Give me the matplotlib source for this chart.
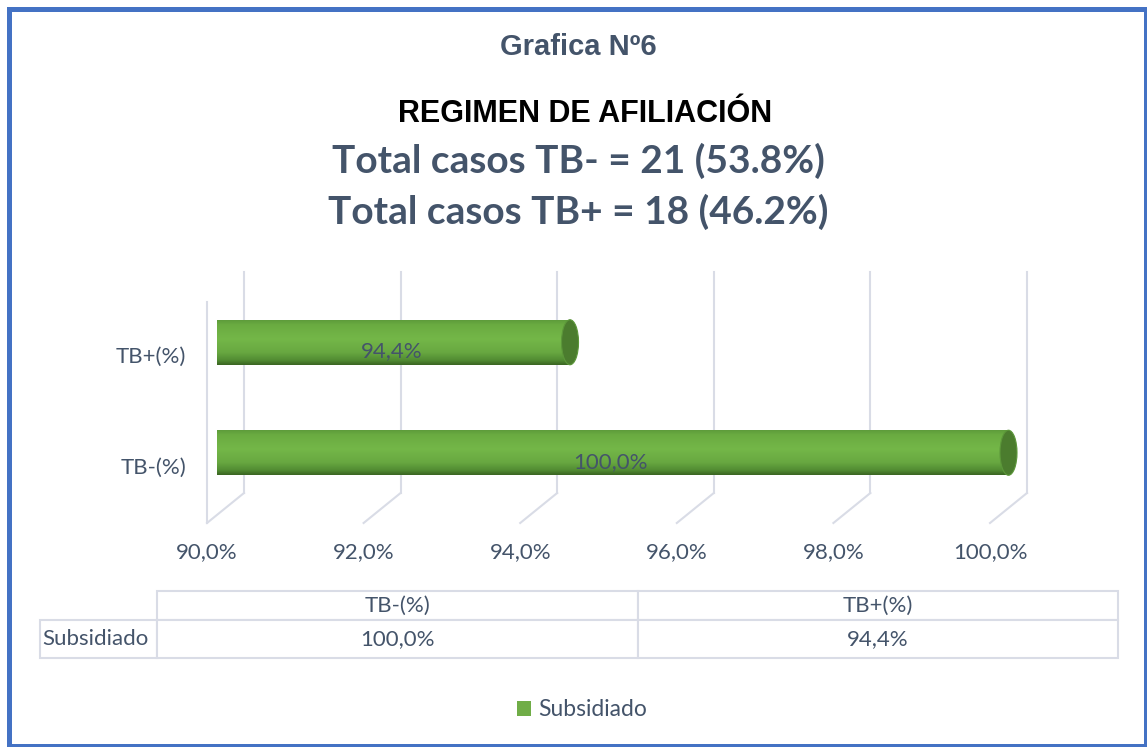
import numpy as np
import matplotlib
matplotlib.use("Agg")
import matplotlib.pyplot as plt
from matplotlib.patches import Ellipse, Rectangle, Patch
from matplotlib.path import Path
from matplotlib.colors import LinearSegmentedColormap
from matplotlib.transforms import Affine2D

# data
categories = ["TB-(%)", "TB+(%)"]
subsidiado = [100.0, 94.4]
series_name = "Subsidiado"
x_ticks = [90, 92, 94, 96, 98, 100]
titulo = "Grafica Nº6"
subtitulo = "REGIMEN DE AFILIACIÓN"
totales = ["Total casos TB- = 21 (53.8%)", "Total casos TB+ = 18 (46.2%)"]

SLATE = "#44546a"
GRID = "#d9dce6"
W, H = 1147, 747

def pct(v):
    return f"{v:.1f}%".replace(".", ",")

fig = plt.figure(figsize=(W / 100, H / 100), dpi=100)
fig.patch.set_facecolor("white")

# 3d look: pixel scale of the front plane and depth shift
px_x = 78.3     # px per 1%
px_y = 110.5    # px per category
dx = 37 / px_x
dy = 30 / px_y

left, right, top, bottom = 207, 1027, 273, 523
ax = fig.add_axes([left / W, 1 - bottom / H, (right - left) / W, (bottom - top) / H])
ax.axis("off")

# back wall grid + floor diagonals
for t in x_ticks:
    ax.plot([t + dx, t + dx], [-0.5 + dy, 1.5 + dy], color=GRID, lw=1.5, clip_on=False, zorder=1)
    ax.plot([t, t + dx], [-0.5, -0.5 + dy], color=GRID, lw=1.5, clip_on=False, zorder=1)
    ax.text(t, -0.5 - 29 / px_y, pct(t), ha="center", va="center", fontsize=16,
            color=SLATE, family="Lato")
ax.plot([90, 90], [-0.5, 1.5], color=GRID, lw=1.5, clip_on=False, zorder=1)

for i, c in enumerate(categories):
    ax.text(90 - 21 / px_x, i, c, ha="right", va="center", fontsize=16, color=SLATE, family="Lato")

# cylinders
cmap = LinearSegmentedColormap.from_list("cyl", [(0, "#5e9c3b"), (0.1, "#6aab41"), (0.42, "#74b748"),
                                                 (0.72, "#68a841"), (0.9, "#518b32"), (1, "#3b6623")])
grad = cmap(np.linspace(0, 1, 100))[:, None, :3]
bh = 45 / px_y
ew = 17 / px_x
for i, v in enumerate(subsidiado):
    x0 = 90 + dx / 2
    x1 = v + dx / 2
    yc = i + dy / 2
    body = Path.make_compound_path(
        Path([(x0, yc - bh / 2), (x1, yc - bh / 2), (x1, yc + bh / 2), (x0, yc + bh / 2), (x0, yc - bh / 2)],
             closed=True),
        Path.unit_circle().transformed(Affine2D().scale(ew / 2, bh / 2).translate(x0, yc)))
    im = ax.imshow(grad, extent=(x0 - ew / 2, x1, yc - bh / 2, yc + bh / 2), aspect="auto",
                   origin="upper", zorder=3, clip_on=False)
    im.set_clip_path(body, transform=ax.transData)
    cap = Ellipse((x1, yc), ew, bh, facecolor="#4b7c2e", edgecolor="#5c973a", lw=0.8, zorder=4,
                  clip_on=False)
    ax.add_patch(cap)
    ax.text((90 + v) / 2 + dx / 3, i + dy * 0.2, pct(v), ha="center", va="center", fontsize=16,
            color=SLATE, family="Lato", zorder=5)

ax.set_xlim(90, 90 + (right - left) / px_x)
ax.set_ylim(-0.5, -0.5 + (bottom - top) / px_y)

# titles
fig.text(578 / W, 1 - 47 / H, titulo, ha="center", va="center", fontsize=21, fontweight="bold",
         color=SLATE, family="Liberation Sans")
fig.text(585 / W, 1 - 114 / H, subtitulo, ha="center", va="center", fontsize=22, fontweight="bold",
         color="black", family="Liberation Sans")
for k, t in enumerate(totales):
    fig.text(578 / W, 1 - (161 + 51 * k) / H, t, ha="center", va="center", fontsize=28,
             fontweight="bold", color=SLATE, family="Lato")

# data table
tx0, tx1, ty0, ty1 = 40, 1118, 591, 658
tax = fig.add_axes([tx0 / W, 1 - ty1 / H, (tx1 - tx0) / W, (ty1 - ty0) / H])
tax.axis("off")
rows = [[""] + categories, [series_name] + [pct(v) for v in subsidiado]]
tab = tax.table(cellText=rows, cellLoc="center", bbox=[0, 0, 1, 1])
tab.auto_set_font_size(False)
tab.set_fontsize(16)
for (r, c), cell in tab.get_celld().items():
    cell.set_edgecolor(GRID)
    cell.set_linewidth(1.5)
    cell.get_text().set_color(SLATE)
    cell.get_text().set_family("Lato")
    cell.set_width(117 / 1078 if c == 0 else 480.5 / 1078)
    cell.set_height(29 / 67 if r == 0 else 38 / 67)
    if c == 0:
        cell.PAD = 0.02
        cell.get_text().set_ha("left")
        cell._loc = "left"
    if r == 0 and c == 0:
        cell.visible_edges = ""

# legend
fig.legend(handles=[Patch(facecolor="#70ad47", edgecolor="none")], labels=[series_name],
           loc="center", bbox_to_anchor=(582 / W, 1 - 710 / H), frameon=False,
           handlelength=0.6, handleheight=0.6, handletextpad=0.3,
           prop={"family": "Lato", "size": 16.5}, labelcolor=SLATE)

# outer border
fig.patches.append(Rectangle((8.5 / W, 1 - 746 / H), (1146 - 8.5) / W, (746 - 8.5) / H,
                             transform=fig.transFigure, fill=False, edgecolor="#4472c4", lw=3.6))

fig.savefig("out.png", dpi=100)
